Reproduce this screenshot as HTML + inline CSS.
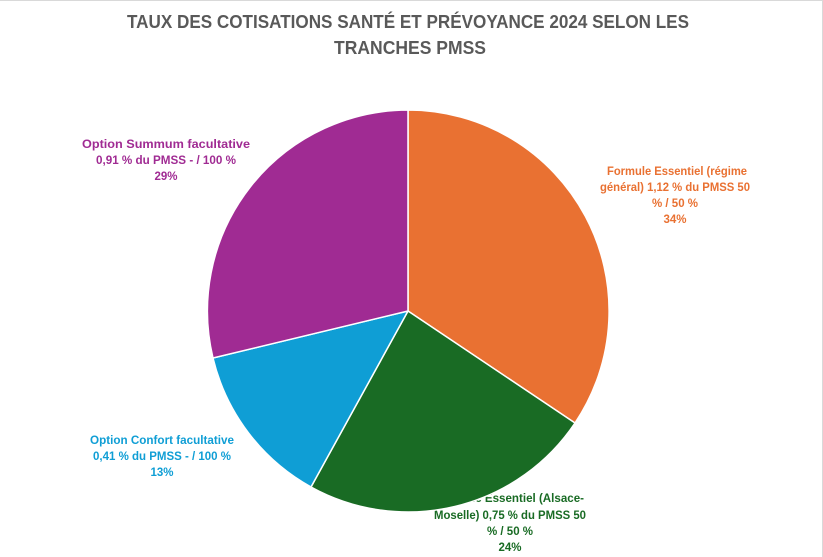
<!DOCTYPE html>
<html><head><meta charset="utf-8"><style>
html,body{margin:0;padding:0;background:#fff;}
svg{display:block;font-family:"Liberation Sans",sans-serif;font-weight:bold;}
</style></head><body>
<svg width="823" height="557" viewBox="0 0 823 557">
<rect x="0" y="0" width="823" height="557" fill="#fff"/>
<line x1="0" y1="0.5" x2="823" y2="0.5" stroke="#d9d9d9"/>
<line x1="822.5" y1="0" x2="822.5" y2="557" stroke="#d9d9d9"/>
<g fill="#595959" font-size="18" text-anchor="middle">
<text x="408" y="28" textLength="562" lengthAdjust="spacingAndGlyphs">TAUX DES COTISATIONS SANTÉ ET PRÉVOYANCE 2024 SELON LES</text>
<text x="410" y="54" textLength="152" lengthAdjust="spacingAndGlyphs">TRANCHES PMSS</text>
</g>
<g font-size="11.5" text-anchor="middle">
<g fill="#196B24">
<text x="510" y="502" textLength="148" lengthAdjust="spacingAndGlyphs">Formule Essentiel (Alsace-</text>
<text x="510" y="519" textLength="152" lengthAdjust="spacingAndGlyphs">Moselle) 0,75 % du PMSS 50</text>
<text x="510" y="535">% / 50 %</text>
<text x="510" y="551">24%</text>
</g>
<g fill="#E97132">
<text x="677" y="175" textLength="140" lengthAdjust="spacingAndGlyphs">Formule Essentiel (régime</text>
<text x="675" y="191" textLength="150" lengthAdjust="spacingAndGlyphs">général) 1,12 % du PMSS 50</text>
<text x="675" y="207">% / 50 %</text>
<text x="675" y="223">34%</text>
</g>
<g fill="#A02B93">
<text x="166" y="148" textLength="168" lengthAdjust="spacingAndGlyphs">Option Summum facultative</text>
<text x="166" y="164" textLength="140" lengthAdjust="spacingAndGlyphs">0,91 % du PMSS - / 100 %</text>
<text x="166" y="180">29%</text>
</g>
<g fill="#0F9ED5">
<text x="162" y="444" textLength="144" lengthAdjust="spacingAndGlyphs">Option Confort facultative</text>
<text x="162" y="460" textLength="138" lengthAdjust="spacingAndGlyphs">0,41 % du PMSS - / 100 %</text>
<text x="162" y="476">13%</text>
</g>
</g>
<g stroke="#fff" stroke-width="1.5" stroke-linejoin="round">
<path d="M408,311 L408,110 A201,201 0 0 1 575,423 Z" fill="#E97132"/>
<path d="M408,311 L575,423 A201,201 0 0 1 311,487 Z" fill="#196B24"/>
<path d="M408,311 L311,487 A201,201 0 0 1 213,358 Z" fill="#0F9ED5"/>
<path d="M408,311 L213,358 A201,201 0 0 1 408,110 Z" fill="#A02B93"/>
</g>
</svg>
</body></html>
